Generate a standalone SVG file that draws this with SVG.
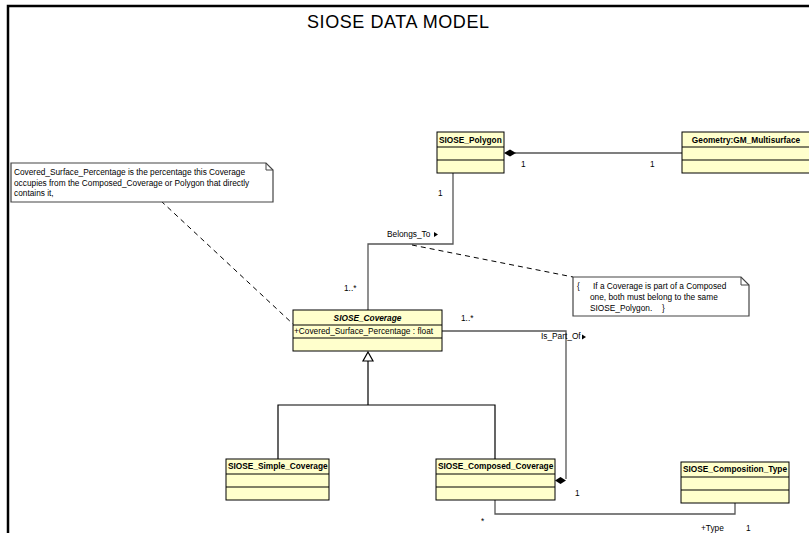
<svg xmlns="http://www.w3.org/2000/svg" width="809" height="533" viewBox="0 0 809 533">
  <style>
    .frame { fill: none; stroke: #000; stroke-width: 2.5; }
    .box { fill: #FFFFCC; stroke: #000; stroke-width: 1; }
    .sep { stroke: #000; stroke-width: 1; }
    .assoc { fill: none; stroke: #555; stroke-width: 1.3; }
    .gen { fill: none; stroke: #000; stroke-width: 1.2; }
    .dash { fill: none; stroke: #000; stroke-width: 1; stroke-dasharray: 5 4; }
    .note { fill: #fff; stroke: #444; stroke-width: 1.2; }
    .t { font-family: "Liberation Sans", Arial, sans-serif; font-size: 8.3px; fill: #000; }
    .hdr { font-family: "Liberation Sans", Arial, sans-serif; font-size: 8.3px; font-weight: bold; fill: #000; }
    .title { font-family: "Liberation Sans", Arial, sans-serif; font-size: 18px; fill: #000; }
  </style>

  <rect x="0" y="0" width="809" height="533" fill="#fff"/>
  <!-- page frame -->
  <path class="frame" d="M8,533 V6 H809"/>
  <text class="title" x="307" y="28" textLength="182" lengthAdjust="spacing">SIOSE DATA MODEL</text>

  <!-- connectors -->
  <g id="connectors">
    <!-- Polygon to Geometry composition -->
    <line class="assoc" x1="515" y1="153" x2="682" y2="153"/>
    <polygon points="504,153 510,149.5 516,153 510,156.5" fill="#000"/>
    <text class="t" x="521" y="167">1</text>
    <text class="t" x="650" y="167">1</text>

    <!-- Belongs_To -->
    <path class="assoc" d="M453,173 V244 H368 V310"/>
    <text class="t" x="438" y="196">1</text>
    <text class="t" x="387" y="237">Belongs_To</text>
    <polygon points="434,232 438,234.5 434,237" fill="#000"/>
    <text class="t" x="344" y="291">1..*</text>

    <!-- Is_Part_Of -->
    <path class="assoc" d="M442,331 H566 V479"/>
    <polygon points="555,480.5 560.5,477 566,480.5 560.5,484" fill="#000"/>
    <text class="t" x="461" y="321">1..*</text>
    <text class="t" x="541" y="339">Is_Part_Of</text>
    <polygon points="582,334.5 586,337 582,339.5" fill="#000"/>
    <text class="t" x="575" y="496">1</text>

    <!-- Composition type -->
    <path class="assoc" d="M495,500 V514 H735 V503"/>
    <text class="t" x="481" y="524">*</text>
    <text class="t" x="701" y="531">+Type</text>
    <text class="t" x="746" y="531">1</text>

    <!-- generalization -->
    <polygon points="368,352 373,361 363,361" fill="#fff" stroke="#000" stroke-width="1.2"/>
    <path class="gen" d="M368,361 V405 M278,459 V405 H495 V459"/>

    <!-- note anchors -->
    <line class="dash" x1="161" y1="201" x2="293" y2="324"/>
    <line class="dash" x1="412" y1="245" x2="573" y2="277"/>
  </g>

  <!-- notes -->
  <g id="note-percentage">
    <path class="note" d="M11,163 H266 L273,170 V202 H11 Z"/>
    <path fill="none" stroke="#444" stroke-width="1" d="M266,163 V170 H273"/>
    <text class="t" x="14" y="175">Covered_Surface_Percentage is the percentage this Coverage</text>
    <text class="t" x="14" y="186">occupies from the Composed_Coverage or Polygon that directly</text>
    <text class="t" x="14" y="196">contains it,</text>
  </g>

  <g id="note-constraint">
    <path class="note" d="M573,277 H741 L749,285 V316 H573 Z"/>
    <path fill="none" stroke="#444" stroke-width="1" d="M741,277 V285 H749"/>
    <text class="t" x="577" y="289">{</text>
    <text class="t" x="593" y="289">If a Coverage is part of a Composed</text>
    <text class="t" x="590" y="300">one, both must belong to the same</text>
    <text class="t" x="590" y="311">SIOSE_Polygon.</text>
    <text class="t" x="662" y="311">}</text>
  </g>

  <!-- classes -->
  <g id="siose-polygon">
    <rect class="box" x="437" y="132" width="67" height="41"/>
    <line class="sep" x1="437" y1="147" x2="504" y2="147"/>
    <line class="sep" x1="437" y1="160" x2="504" y2="160"/>
    <text class="hdr" x="439" y="143">SIOSE_Polygon</text>
  </g>

  <g id="gm-multisurface">
    <rect class="box" x="682" y="132" width="135" height="41"/>
    <line class="sep" x1="682" y1="147" x2="809" y2="147"/>
    <line class="sep" x1="682" y1="160" x2="809" y2="160"/>
    <text class="hdr" x="746" y="143" text-anchor="middle">Geometry:GM_Multisurface</text>
  </g>

  <g id="siose-coverage">
    <rect class="box" x="293" y="310" width="149" height="41"/>
    <line class="sep" x1="293" y1="325" x2="442" y2="325"/>
    <line class="sep" x1="293" y1="338" x2="442" y2="338"/>
    <text class="hdr" x="367.5" y="321" text-anchor="middle" font-style="italic">SIOSE_Coverage</text>
    <text class="t" x="294" y="334">+Covered_Surface_Percentage : float</text>
  </g>

  <g id="siose-simple-coverage">
    <rect class="box" x="226" y="459" width="103" height="41"/>
    <line class="sep" x1="226" y1="474" x2="329" y2="474"/>
    <line class="sep" x1="226" y1="487" x2="329" y2="487"/>
    <text class="hdr" x="228" y="469">SIOSE_Simple_Coverage</text>
  </g>

  <g id="siose-composed-coverage">
    <rect class="box" x="436" y="459" width="119" height="41"/>
    <line class="sep" x1="436" y1="474" x2="555" y2="474"/>
    <line class="sep" x1="436" y1="487" x2="555" y2="487"/>
    <text class="hdr" x="438" y="469">SIOSE_Composed_Coverage</text>
  </g>

  <g id="siose-composition-type">
    <rect class="box" x="681" y="462" width="108" height="41"/>
    <line class="sep" x1="681" y1="477" x2="789" y2="477"/>
    <line class="sep" x1="681" y1="490" x2="789" y2="490"/>
    <text class="hdr" x="683" y="472">SIOSE_Composition_Type</text>
  </g>
</svg>
